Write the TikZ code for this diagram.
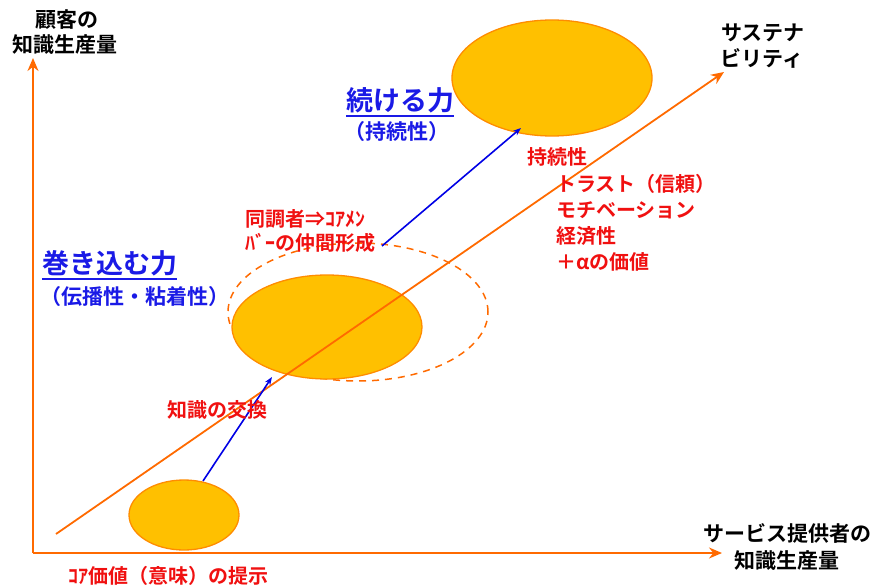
\documentclass[tikz,border=0pt]{standalone}
\usepackage{fontspec}
\newfontfamily\jp{Noto Sans CJK JP}[BoldFont={Noto Sans CJK JP Bold}]
\usetikzlibrary{arrows.meta,shapes.geometric,calc}
\definecolor{axisor}{HTML}{FF6A00}
\definecolor{ellfill}{HTML}{FFC000}
\definecolor{ellline}{HTML}{FF8C00}
\definecolor{txtblue}{HTML}{1A1AE6}
\definecolor{txtred}{HTML}{F01010}
\tikzset{
  orarrow/.style={draw=axisor, line width=1.8pt, -{Stealth[length=13pt,width=11pt]}},
  bluearrow/.style={draw=blue!90!black, line width=1.6pt, -{Stealth[length=8pt,width=6pt]}},
  blob/.style={ellipse, draw=ellline, line width=1.3pt, fill=ellfill, inner sep=0pt},
  dashblob/.style={ellipse, draw=axisor, line width=1.5pt, dash pattern=on 7pt off 6pt, inner sep=0pt},
  blk/.style={font=\jp\bfseries\fontsize{21}{25}\selectfont, text=black, inner sep=0pt},
  red/.style={font=\jp\bfseries\fontsize{20}{24}\selectfont, text=txtred, inner sep=0pt},
  redl/.style={red, anchor=west},
  bluet/.style={font=\jp\bfseries\fontsize{27}{31}\selectfont, text=txtblue, inner sep=0pt},
  blues/.style={font=\jp\bfseries\fontsize{21}{25}\selectfont, text=txtblue, inner sep=0pt},
  uline/.style={draw=txtblue, line width=1.3pt},
}
\begin{document}
\begin{tikzpicture}[x=1pt,y=-1pt]
\useasboundingbox (0,0) rectangle (874,585);
% ellipses
\node[dashblob, minimum width=260pt, minimum height=138pt] (dash) at (358,312) {};
\node[blob, minimum width=110pt, minimum height=70pt] (e1) at (184,515) {};
\node[blob, minimum width=190pt, minimum height=104pt] (e2) at (327,327) {};
\node[blob, minimum width=200pt, minimum height=116pt] (e3) at (552,78) {};
% axes
\coordinate (O) at (33,553);
\coordinate (Y) at (33,58);
\coordinate (X) at (722,553);
\draw[orarrow] (O) -- (Y);
\draw[orarrow] (O) -- (X);
% diagonal
\coordinate (d0) at (56,534);
\coordinate (d1) at (724,72);
\draw[orarrow] (d0) -- (d1);
% blue arrows
\coordinate (b1s) at (203,481);
\coordinate (b1e) at (272,377);
\coordinate (b2s) at (382,246);
\coordinate (b2e) at (521,128);
\draw[bluearrow] (b1s) -- (b1e);
\draw[bluearrow] (b2s) -- (b2e);
% axis labels
\node[blk] (ya1) at (67,20) {顧客の};
\node[blk] (ya2) at (65,45) {知識生産量};
\node[blk] (s1) at (763,33) {サステナ};
\node[blk] (s2) at (762,58) {ビリティ};
\node[blk] (xa1) at (787,533) {サービス提供者の};
\node[blk] (xa2) at (787,561) {知識生産量};
% red labels
\node[red] (core) at (168,576) {ｺｱ価値（意味）の提示};
\node[red] (ex) at (217,410) {知識の交換};
\node[redl] (dc1) at (245,219) {同調者⇒ｺｱﾒﾝ};
\node[redl] (dc2) at (245,243) {ﾊﾞｰの仲間形成};
\node[redl] (r1) at (527,157) {持続性};
\node[redl] (r2) at (556,184) {トラスト（信頼）};
\node[redl] (r3) at (556,210) {モチベーション};
\node[redl] (r4) at (556,236) {経済性};
\node[redl] (r5) at (556,262) {＋αの価値};
% blue labels
\node[bluet, anchor=west] (m1) at (42,263) {巻き込む力};
\draw[uline] ($(m1.south west)+(0,3)$) -- ($(m1.south east)+(0,3)$);
\node[blues, anchor=west] (m2) at (40,297) {（伝播性・粘着性）};
\node[bluet, anchor=west] (k1) at (346,100) {続ける力};
\draw[uline] ($(k1.south west)+(0,3)$) -- ($(k1.south east)+(0,3)$);
\node[blues, anchor=west] (k2) at (344,132) {（持続性）};
\end{tikzpicture}
\end{document}
